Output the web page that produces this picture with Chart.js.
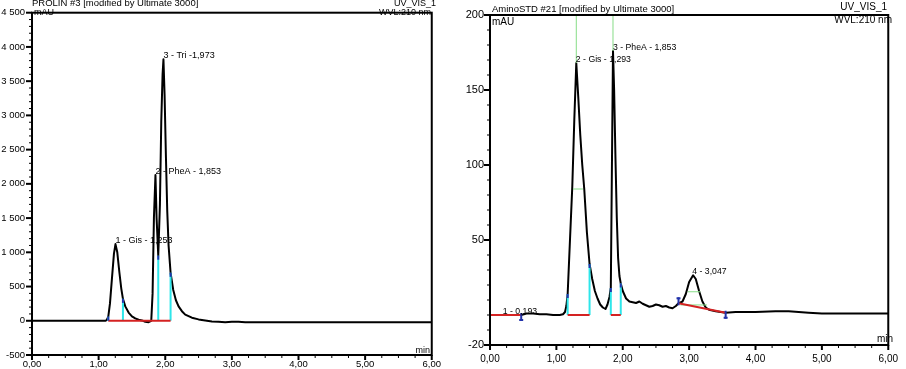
<!DOCTYPE html>
<html><head><meta charset="utf-8">
<script src="https://cdn.jsdelivr.net/npm/chart.js@4/dist/chart.umd.min.js"></script>
<style>
html,body{margin:0;padding:0;background:#fff;width:906px;height:369px;overflow:hidden}
#l{position:absolute;left:0;top:0;width:445px;height:369px}
#r{position:absolute;left:445px;top:0;width:461px;height:369px}
</style></head><body>
<div id="l"><canvas id="cl"></canvas></div>
<div id="r"><canvas id="cr"></canvas></div>
<script>
// ---------- LEFT: PROLIN #3 ----------
const leftTime   = [0,0.5,1.0,1.10,1.12,1.145,1.17,1.20,1.23,1.253,1.28,1.31,1.34,1.365,1.40,1.45,1.50,1.55,1.60,1.65,1.70,1.75,1.79,1.81,1.83,1.853,1.87,1.895,1.92,1.94,1.96,1.973,1.99,2.01,2.03,2.05,2.08,2.12,2.16,2.20,2.25,2.30,2.40,2.50,2.60,2.70,2.80,2.90,3.00,3.10,3.20,3.50,4.00,5.00,6.00];
const leftSignal = [0,0,0,0,10,60,250,620,980,1120,1000,720,470,320,210,120,65,35,15,5,-15,-20,0,400,1500,2130,1500,950,1700,2900,3600,3820,3300,2400,1600,1100,700,450,300,210,140,90,45,20,5,-10,-15,-20,-15,-15,-20,-20,-20,-20,-20];
const leftPeakTimes   = [1.253, 1.853, 1.973];
const leftPeakHeights = [1120, 2130, 3820];
const leftPeakNames   = ['1 - Gis - 1,253', '2 - PheA - 1,853', '3 - Tri -1,973'];
const leftCutTimes    = [1.145, 1.365, 1.895, 2.08];
const leftCutHeights  = [60, 320, 950, 700];
const leftBaseStart   = [1.145];
const leftBaseEnd     = [2.08];
const leftBaseStartVal= [0];
const leftBaseEndVal  = [0];
const leftYMin = -500, leftYMax = 4500, leftYStep = 100, leftYLabelStep = 500;

// ---------- RIGHT: AminoSTD #21 ----------
const rightTime   = [0,0.1,0.2,0.3,0.4,0.47,0.55,0.65,0.75,0.85,0.95,1.05,1.10,1.13,1.15,1.17,1.20,1.24,1.27,1.30,1.33,1.36,1.39,1.42,1.46,1.50,1.54,1.58,1.62,1.66,1.70,1.74,1.77,1.80,1.82,1.835,1.853,1.87,1.89,1.91,1.93,1.95,1.97,2.00,2.05,2.10,2.15,2.20,2.25,2.30,2.35,2.40,2.45,2.50,2.55,2.60,2.65,2.70,2.75,2.80,2.84,2.90,2.95,3.00,3.06,3.10,3.15,3.20,3.25,3.30,3.40,3.55,3.70,4.00,4.30,4.50,4.80,5.00,5.50,6.00];
const rightSignal = [0,0,0,0,0,0,1,1,0.5,0.5,0,0,0.5,2,6,14,45,86,130,168,145,120,100,84,55,34,24,16,11,7,5,4,7,12,18,90,176,150,105,65,38,26,21,16,11,9,8.5,8,9,7.5,6.5,5.5,6,7,6.5,5.5,6,5,4.5,6,7.8,9,14,22,26.5,24,16,9,5,3.5,2.5,1.5,2,2,2.5,2.5,1.5,1,1,1];
const rightPeakTimes   = [0.193, 1.293, 1.853, 3.047];
const rightPeakHeights = [0, 168, 176, 26.5];
const rightPeakNames   = ['1 - 0,193', '2 - Gis - 1,293', '3 - PheA - 1,853', '4 - 3,047'];
const rightCutTimes    = [1.17, 1.50, 1.82, 1.97];
const rightCutHeights  = [14, 34, 18, 21];
const rightBaseStart   = [0, 1.17, 1.82, 2.84];
const rightBaseEnd     = [0.47, 1.50, 1.97, 3.55];
const rightBaseStartVal= [0, 0, 0, 7.8];
const rightBaseEndVal  = [0, 0, 0, 1.5];
const rightMarkTimes   = [0.47, 2.84, 3.55];
const rightMarkValues  = [0, 7.8, 1.5];
const rightMarkDir     = [1, -1, 1];
const rightGreenX0 = [1.30, 1.853, 1.25, 2.87, 2.98];
const rightGreenY0 = [168, 176, 84, 6.7, 15.5];
const rightGreenX1 = [1.30, 1.853, 1.40, 3.27, 3.17];
const rightGreenY1 = [200, 200, 84, 6.7, 15.5];
const rightYMin = -20, rightYMax = 200, rightYStep = 10;
const rightYLabels = [200, 150, 100, 50, -20];

const xMin = 0, xMax = 6, xStep = 0.25;

function segs(x0, y0, x1, y1){
  const out = [];
  for (let i = 0; i < x0.length; i++){
    out.push({x:x0[i], y:y0[i]}, {x:x1[i], y:y1[i]}, {x:x1[i], y:null});
  }
  return out;
}
function xLabel(v){ return Math.abs(v - Math.round(v)) < 1e-9 ? v.toFixed(2).replace('.', ',') : ''; }
function leftYLabel(v){
  if (v % leftYLabelStep !== 0) return '';
  if (Math.abs(v) >= 1000){ const th = Math.trunc(v/1000); return th + ' ' + String(Math.abs(v % 1000)).padStart(3,'0'); }
  return String(v);
}

function decoPlugin(o){
  return {
    id: 'deco',
    afterDatasetsDraw(chart){
      const {ctx, chartArea:a, scales:{x, y}} = chart;
      ctx.save();
      ctx.strokeStyle = '#2233aa'; ctx.lineWidth = 2;
      o.cutT.forEach((t,i)=>{
        const px = x.getPixelForValue(t), py = y.getPixelForValue(o.cutH[i]);
        ctx.beginPath(); ctx.moveTo(px, py); ctx.lineTo(px, py + 4); ctx.stroke();
      });
      (o.markT||[]).forEach((t,i)=>{
        const px = x.getPixelForValue(t), py = y.getPixelForValue(o.markV[i]);
        const d = o.markD[i];
        ctx.beginPath(); ctx.moveTo(px, py - 2*d); ctx.lineTo(px, py + 6*d); ctx.stroke();
        ctx.beginPath(); ctx.moveTo(px-2, py + 5*d); ctx.lineTo(px+2, py + 5*d); ctx.stroke();
      });
      ctx.fillStyle = '#000';
      ctx.font = o.peakFont;
      ctx.textAlign = 'left'; ctx.textBaseline = 'alphabetic';
      o.peakT.forEach((t,i)=>{
        const px = x.getPixelForValue(t), py = y.getPixelForValue(o.peakH[i]);
        ctx.fillText(o.peakN[i], px, py - 1);
      });
      ctx.strokeStyle = '#000'; ctx.lineWidth = 2;
      ctx.strokeRect(a.left, a.top, a.right - a.left, a.bottom - a.top);
      y.ticks.forEach(tk=>{
        const p = y.getPixelForValue(tk.value);
        const maj = o.yMajor(tk.value);
        ctx.lineWidth = maj ? 2 : 1;
        ctx.beginPath(); ctx.moveTo(a.left, p); ctx.lineTo(a.left - (maj ? 6 : 3), p); ctx.stroke();
      });
      x.ticks.forEach(tk=>{
        const p = x.getPixelForValue(tk.value);
        const maj = Math.abs(tk.value - Math.round(tk.value)) < 1e-9;
        ctx.lineWidth = maj ? 2 : 1;
        ctx.beginPath(); ctx.moveTo(p, a.bottom); ctx.lineTo(p, a.bottom + (maj ? 5 : 3)); ctx.stroke();
      });
      o.texts.forEach(tx=>{
        ctx.font = tx.font; ctx.textAlign = tx.align; ctx.textBaseline = tx.base;
        ctx.fillText(tx.s, tx.x, tx.y);
      });
      ctx.restore();
    }
  };
}

function makeChart(id, o){
  const trace = o.time.map((t,i)=>({x:t, y:o.signal[i]}));
  const common = {pointRadius:0, tension:0, fill:false, spanGaps:false, borderJoinStyle:'round'};
  const datasets = [
    Object.assign({data:trace, borderColor:'#000', borderWidth:2, order:5}, common),
    Object.assign({data:segs(o.gX0, o.gY0, o.gX1, o.gY1), borderColor:'#86dd86', borderWidth:1, order:4}, common),
    Object.assign({data:segs(o.cutT, o.cutT.map(()=>0), o.cutT, o.cutH), borderColor:'#2ee6ea', borderWidth:2, order:3}, common),
    Object.assign({data:segs(o.bS, o.bSV, o.bE, o.bEV), borderColor:'#d42222', borderWidth:2, order:2}, common)
  ];
  return new Chart(document.getElementById(id), {
    type:'line',
    data:{datasets},
    options:{
      responsive:true, maintainAspectRatio:false, animation:false,
      layout:{padding:o.pad},
      plugins:{legend:{display:false}, tooltip:{enabled:false}},
      scales:{
        x:{type:'linear', min:xMin, max:xMax,
           grid:{display:false, drawTicks:false}, border:{display:false},
           ticks:{stepSize:xStep, autoSkip:false, maxRotation:0, minRotation:0, padding:o.xPad, color:'#000',
                  font:{family:'Liberation Sans, Arial, sans-serif', size:o.xFont}, callback:xLabel},
           afterFit(s){ s.height = o.xH; }},
        y:{type:'linear', min:o.yMin, max:o.yMax,
           grid:{display:false, drawTicks:false}, border:{display:false},
           ticks:{stepSize:o.yStep, autoSkip:false, padding:o.yPad, color:'#000',
                  font:{family:'Liberation Sans, Arial, sans-serif', size:o.yFont}, callback:o.yCb},
           afterFit(s){ s.width = o.yW; }}
      }
    },
    plugins:[decoPlugin(o)]
  });
}

const F = 'Liberation Sans, Arial, sans-serif';
makeChart('cl', {
  time:leftTime, signal:leftSignal,
  gX0:[], gY0:[], gX1:[], gY1:[],
  cutT:leftCutTimes, cutH:leftCutHeights,
  bS:leftBaseStart, bSV:leftBaseStartVal, bE:leftBaseEnd, bEV:leftBaseEndVal,
  peakT:leftPeakTimes, peakH:leftPeakHeights, peakN:leftPeakNames, peakFont:'9px ' + F,
  yMin:leftYMin, yMax:leftYMax, yStep:leftYStep, yCb:leftYLabel,
  yMajor:v => v % leftYLabelStep === 0,
  pad:{top:7, right:13, left:0, bottom:0}, xH:14, yW:32, xPad:4, yPad:7, xFont:9.5, yFont:9.5,
  texts:[
    {s:'PROLIN #3 [modified by Ultimate 3000]', x:32, y:6, align:'left', base:'alphabetic', font:'9.5px ' + F},
    {s:'mAU', x:34, y:15, align:'left', base:'alphabetic', font:'9px ' + F},
    {s:'UV_VIS_1', x:436, y:6, align:'right', base:'alphabetic', font:'9px ' + F},
    {s:'WVL:210 nm', x:431, y:15, align:'right', base:'alphabetic', font:'9px ' + F},
    {s:'min', x:430, y:353, align:'right', base:'alphabetic', font:'9px ' + F}
  ]
});
makeChart('cr', {
  time:rightTime, signal:rightSignal,
  gX0:rightGreenX0, gY0:rightGreenY0, gX1:rightGreenX1, gY1:rightGreenY1,
  cutT:rightCutTimes, cutH:rightCutHeights,
  bS:rightBaseStart, bSV:rightBaseStartVal, bE:rightBaseEnd, bEV:rightBaseEndVal,
  markT:rightMarkTimes, markV:rightMarkValues, markD:rightMarkDir,
  peakT:rightPeakTimes, peakH:rightPeakHeights, peakN:rightPeakNames, peakFont:'8.7px ' + F,
  yMin:rightYMin, yMax:rightYMax, yStep:rightYStep,
  yCb:v => rightYLabels.includes(v) ? String(v) : '',
  yMajor:v => rightYLabels.includes(v),
  pad:{top:15, right:12, left:0, bottom:0}, xH:24, yW:45, xPad:8, yPad:6, xFont:10, yFont:11,
  texts:[
    {s:'AminoSTD #21 [modified by Ultimate 3000]', x:47, y:11.5, align:'left', base:'alphabetic', font:'9.5px ' + F},
    {s:'mAU', x:47, y:25, align:'left', base:'alphabetic', font:'10px ' + F},
    {s:'UV_VIS_1', x:442, y:9.5, align:'right', base:'alphabetic', font:'10px ' + F},
    {s:'WVL:210 nm', x:447, y:23, align:'right', base:'alphabetic', font:'10px ' + F},
    {s:'min', x:448, y:342, align:'right', base:'alphabetic', font:'10px ' + F}
  ]
});
</script>
</body></html>
